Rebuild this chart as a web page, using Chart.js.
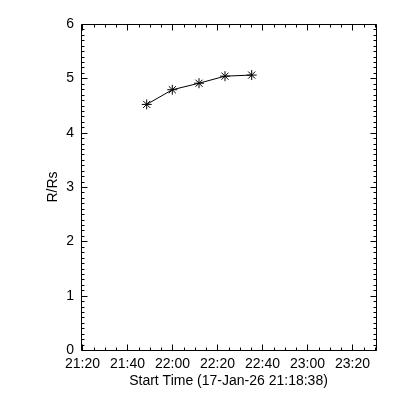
<!DOCTYPE html>
<html>
<head>
<meta charset="utf-8">
<script src="https://cdn.jsdelivr.net/npm/chart.js@4"></script>
<style>
  html, body { margin: 0; padding: 0; background: #fff; }
  canvas { display: block; }
</style>
</head>
<body>
<canvas id="heightChart" width="400" height="400"></canvas>
<script>
// values
const startTimes = ['21:48:32', '21:59:55', '22:11:47', '22:23:20', '22:35:12'];
const heights = [4.52, 4.79, 4.91, 5.04, 5.06];
const xTickLabels = ['21:20', '21:40', '22:00', '22:20', '22:40', '23:00', '23:20'];
const yTickValues = [0, 1, 2, 3, 4, 5, 6];
const xRange = ['21:19:20', '23:30:27'];
const xTitle = 'Start Time (17-Jan-26 21:18:38)';
const yTitle = 'R/Rs';

// hh:mm(:ss) -> minutes of day
function toMinutes(t) {
    const p = t.split(':').map(Number);
    return p[0] * 60 + p[1] + (p[2] || 0) / 60;
}
function fmtTime(m) {
    const h = Math.floor(m / 60), mm = Math.round(m % 60);
    return String(h).padStart(2, '0') + ':' + String(mm).padStart(2, '0');
}

const points = startTimes.map((t, i) => ({ x: toMinutes(t), y: heights[i] }));

// box with inward ticks on all four sides (IDL style)
const idlAxes = {
    id: 'idlAxes',
    afterDraw(chart) {
        const { ctx, chartArea: a, scales: { x, y } } = chart;
        const L = Math.round(a.left) + 0.5, R = Math.round(a.right) + 0.5;
        const T = Math.round(a.top) + 0.5, B = Math.round(a.bottom) + 0.5;
        ctx.save();
        ctx.strokeStyle = '#000';
        ctx.lineWidth = 1;
        ctx.beginPath();
        ctx.rect(L, T, R - L, B - T);
        for (let m = Math.ceil(x.min / 5) * 5; m <= x.max; m += 5) {
            const px = Math.round(x.getPixelForValue(m)) + 0.5;
            const len = m % 20 === 0 ? 6 : 3;
            ctx.moveTo(px, B); ctx.lineTo(px, B - len);
            ctx.moveTo(px, T); ctx.lineTo(px, T + len);
        }
        for (let i = 0; i <= 60; i++) {
            const py = Math.round(y.getPixelForValue(i / 10)) + 0.5;
            const len = i % 10 === 0 ? 6 : 3;
            ctx.moveTo(L, py); ctx.lineTo(L + len, py);
            ctx.moveTo(R, py); ctx.lineTo(R - len, py);
        }
        ctx.stroke();
        ctx.restore();
    }
};

Chart.defaults.font.family = "'Liberation Sans', Arial, sans-serif";
Chart.defaults.font.size = 14;
Chart.defaults.color = '#000';

new Chart(document.getElementById('heightChart'), {
    type: 'line',
    data: {
        datasets: [{
            data: points,
            borderColor: '#000',
            backgroundColor: '#000',
            borderWidth: 1,
            pointStyle: 'star',
            pointRadius: 5,
            pointBorderWidth: 1,
            tension: 0
        }]
    },
    options: {
        responsive: false,
        animation: false,
        devicePixelRatio: 1,
        layout: { padding: { top: 24, right: 24, left: 0, bottom: 0 } },
        plugins: { legend: { display: false }, tooltip: { enabled: false } },
        scales: {
            x: {
                type: 'linear',
                min: toMinutes(xRange[0]),
                max: toMinutes(xRange[1]),
                grid: { display: false, drawTicks: false },
                border: { display: false },
                afterBuildTicks(scale) {
                    scale.ticks = xTickLabels.map(l => ({ value: toMinutes(l) }));
                },
                afterFit(scale) { scale.height = 50; },
                ticks: {
                    padding: 6,
                    maxRotation: 0,
                    autoSkip: false,
                    callback: v => fmtTime(v)
                },
                title: { display: true, text: xTitle, padding: { top: 0, bottom: 10 } }
            },
            y: {
                min: 0,
                max: 6,
                grid: { display: false, drawTicks: false },
                border: { display: false },
                afterBuildTicks(scale) {
                    scale.ticks = yTickValues.map(v => ({ value: v }));
                },
                afterFit(scale) { scale.width = 81; },
                ticks: { padding: 7 },
                title: { display: true, text: yTitle, padding: { top: 45, bottom: 0 } }
            }
        }
    },
    plugins: [idlAxes]
});
</script>
</body>
</html>
